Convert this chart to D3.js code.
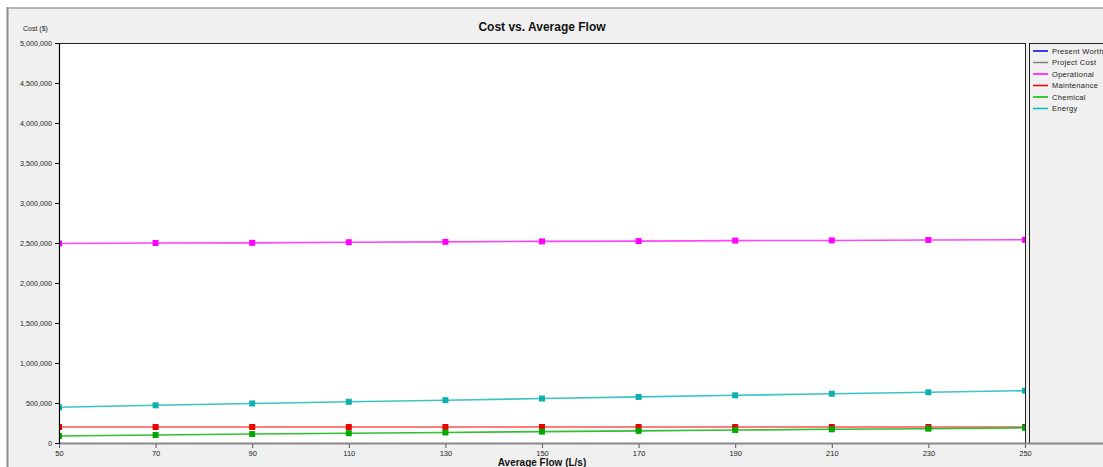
<!DOCTYPE html>
<html>
<head>
<meta charset="utf-8">
<script src="https://cdn.jsdelivr.net/npm/d3@7"></script>
<style>
  html, body { margin: 0; padding: 0; background: #ffffff; }
  svg { display: block; font-family: "Liberation Sans", Arial, sans-serif; }
</style>
</head>
<body>
<svg id="chart" width="1103" height="467"></svg>
<script>
// Average flow (L/s) on the x axis
const flows = [50, 70, 90, 110, 130, 150, 170, 190, 210, 230, 250];

// Cost series ($)
const operational = [2494000, 2500000, 2502000, 2510000, 2514000, 2520000, 2524000, 2530000, 2532000, 2538000, 2540000];
const energy      = [446000, 471000, 494000, 515000, 535000, 556000, 576000, 596000, 616000, 634000, 654000];
const maintenance = [200000, 200000, 200000, 200000, 200000, 200000, 200000, 200000, 200000, 200000, 200000];
const chemical    = [88000, 100000, 112000, 122000, 132000, 142000, 152000, 162000, 171000, 179000, 190000];

const xTicks = [50, 70, 90, 110, 130, 150, 170, 190, 210, 230, 250];
const yTicks = [0, 500000, 1000000, 1500000, 2000000, 2500000, 3000000, 3500000, 4000000, 4500000, 5000000];

const legendNames  = ["Present Worth", "Project Cost", "Operational", "Maintenance", "Chemical", "Energy"];
const legendColors = ["#0000ee", "#808080", "#ff00ff", "#ee0000", "#00bb00", "#00bbbb"];

const plotted = [
  { values: operational, line: "#ff44ff", mark: "#ff00ff" },
  { values: energy,      line: "#3cc4c4", mark: "#10b0b0" },
  { values: maintenance, line: "#ff5050", mark: "#ee0000" },
  { values: chemical,    line: "#30c030", mark: "#00aa00" }
];

const svg = d3.select("#chart");
const W = 1103, H = 467;
const L = 59, R = 1025, T = 43, B = 443;

// window frame
svg.append("rect").attr("x", 8).attr("y", 8).attr("width", W).attr("height", H)
  .attr("fill", "#f0f0f0");
svg.append("line").attr("x1", 7.5).attr("x2", 7.5).attr("y1", 7).attr("y2", H)
  .attr("stroke", "#8c8c8c").attr("stroke-width", 2);
svg.append("line").attr("x1", 7).attr("x2", W).attr("y1", 8).attr("y2", 8)
  .attr("stroke", "#a0a0a0").attr("stroke-width", 1.5);

const x = d3.scaleLinear().domain([50, 250]).range([L, R]);
const y = d3.scaleLinear().domain([0, 5000000]).range([B, T]);

// plot area
svg.append("rect").attr("x", L).attr("y", T).attr("width", R - L).attr("height", B - T)
  .attr("fill", "#ffffff");
svg.append("defs").append("clipPath").attr("id", "plotClip")
  .append("rect").attr("x", L).attr("y", T).attr("width", R - L).attr("height", B - T);

// legend box
svg.append("rect").attr("x", 1029.5).attr("y", T + 0.5).attr("width", 90).attr("height", B - T)
  .attr("fill", "#f0f0f0").attr("stroke", "#222").attr("stroke-width", 1);

// title
svg.append("text").attr("x", 542).attr("y", 31).attr("text-anchor", "middle")
  .attr("font-size", 12).attr("font-weight", "bold").attr("fill", "#111")
  .text("Cost vs. Average Flow");

// y axis title
svg.append("text").attr("x", 23).attr("y", 31)
  .attr("font-size", 7).attr("fill", "#222").text("Cost ($)");

// series, clipped to the plot area
const line = d3.line().x((d, i) => x(flows[i])).y(d => y(d));
const plot = svg.append("g").attr("clip-path", "url(#plotClip)");
plotted.forEach(s => {
  plot.append("path").datum(s.values).attr("d", line)
    .attr("fill", "none").attr("stroke", s.line).attr("stroke-width", 1.6);
});
plotted.forEach(s => {
  plot.selectAll(null).data(s.values).enter().append("rect")
    .attr("x", (d, i) => x(flows[i]) - 3).attr("y", d => y(d) - 3)
    .attr("width", 6).attr("height", 6).attr("fill", s.mark);
});

// plot border (top and right)
svg.append("line").attr("x1", L).attr("x2", R + 0.5).attr("y1", T + 0.5).attr("y2", T + 0.5)
  .attr("stroke", "#222").attr("stroke-width", 1);
svg.append("line").attr("x1", R + 0.5).attr("x2", R + 0.5).attr("y1", T).attr("y2", B)
  .attr("stroke", "#222").attr("stroke-width", 1);

// y axis
const yAxis = d3.axisLeft(y).tickValues(yTicks).tickSize(4).tickPadding(3)
  .tickFormat(d3.format(","));
const gy = svg.append("g").attr("transform", `translate(${L},0)`).call(yAxis);
gy.select(".domain").remove();
gy.selectAll(".tick line").attr("stroke", "#000");
gy.selectAll(".tick text").attr("font-size", 7.2).attr("fill", "#222")
  .attr("font-family", "\"Liberation Sans\", Arial, sans-serif");

// x axis
const xAxis = d3.axisBottom(x).tickValues(xTicks).tickSize(5).tickPadding(3)
  .tickFormat(d3.format("d"));
const gx = svg.append("g").attr("transform", `translate(0,${B})`).call(xAxis);
gx.select(".domain").remove();
gx.selectAll(".tick line").attr("stroke", "#555");
gx.selectAll(".tick text").attr("font-size", 7.5).attr("fill", "#222")
  .attr("font-family", "\"Liberation Sans\", Arial, sans-serif");
svg.append("line").attr("x1", L).attr("x2", W).attr("y1", B + 0.5).attr("y2", B + 0.5)
  .attr("stroke", "#8a8a8a").attr("stroke-width", 2);
svg.append("line").attr("x1", L + 0.5).attr("x2", L + 0.5).attr("y1", T).attr("y2", B + 1)
  .attr("stroke", "#000").attr("stroke-width", 1.2);

// x axis title
svg.append("text").attr("x", 542).attr("y", 466).attr("text-anchor", "middle")
  .attr("font-size", 10).attr("font-weight", "bold").attr("fill", "#111")
  .text("Average Flow (L/s)");

// legend entries
const lg = svg.append("g");
legendNames.forEach((name, i) => {
  const ly = 51 + i * 11.5;
  lg.append("line").attr("x1", 1033).attr("x2", 1048).attr("y1", ly).attr("y2", ly)
    .attr("stroke", legendColors[i]).attr("stroke-width", 1.5);
  lg.append("text").attr("x", 1052).attr("y", ly + 2.5)
    .attr("font-size", 7.5).attr("fill", "#222").attr("letter-spacing", 0.3).text(name);
});
</script>
</body>
</html>
